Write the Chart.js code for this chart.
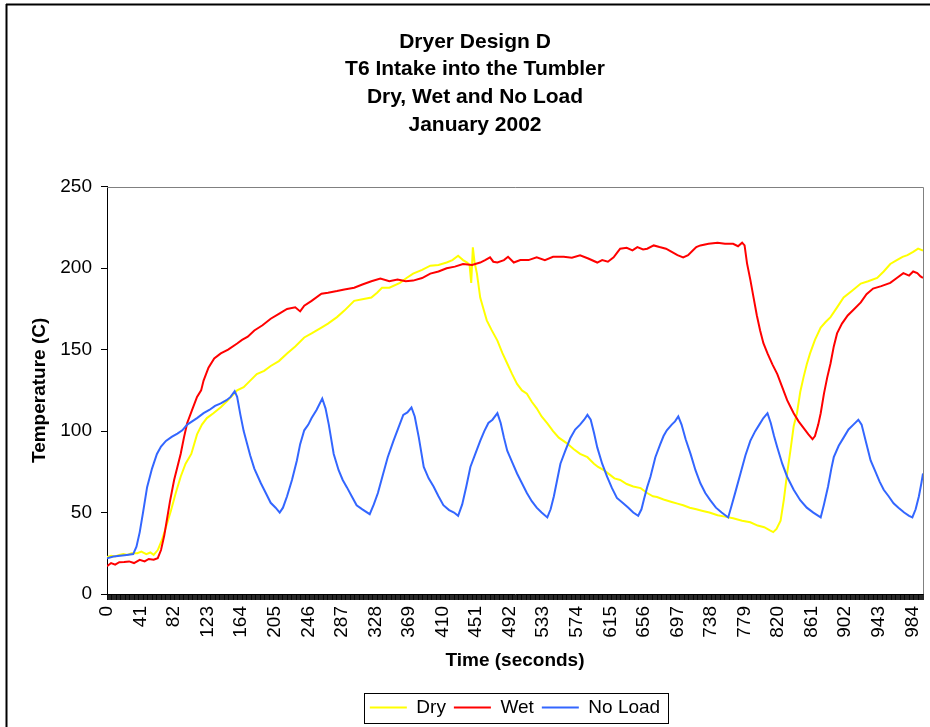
<!DOCTYPE html>
<html>
<head>
<meta charset="utf-8">
<script src="https://cdn.jsdelivr.net/npm/chart.js@4/dist/chart.umd.min.js"></script>
<style>
html,body{margin:0;padding:0;background:#fff;}
#wrap{position:relative;width:930px;height:727px;}
</style>
</head>
<body>
<div id="wrap"><canvas id="c" width="930" height="727"></canvas></div>
<script>
const titleLines = ["Dryer Design D", "T6 Intake into the Tumbler", "Dry, Wet and No Load", "January 2002"];
const xAxisTitle = "Time (seconds)";
const yAxisTitle = "Temperature (C)";
const seriesNames = ["Dry", "Wet", "No Load"];
const xTickLabels = [0,41,82,123,164,205,246,287,328,369,410,451,492,533,574,615,656,697,738,779,820,861,902,943,984];
const lastSecond = 997;
const yTicks = [0,50,100,150,200,250];

const dryTime = [0,5,10,15,20,25,30,37,42,48,53,57,62,67,72,78,84,90,96,103,110,116,122,130,139,148,159,167,175,183,192,200,210,220,230,241,250,262,270,281,290,302,312,323,330,336,345,358,366,374,385,395,405,415,422,429,435,440,443,445,447,449,452,456,460,464,470,477,483,489,495,501,507,513,519,525,531,538,545,552,562,570,578,587,595,600,607,615,620,627,635,643,652,660,667,672,680,690,697,704,712,720,728,736,746,755,765,776,786,795,803,810,814,818,823,827,831,835,839,843,847,851,855,859,865,872,878,884,892,900,910,921,930,941,949,957,965,972,978,985,991,997];
const dryTemp = [22.7,23.5,23,24,24.5,24,25,25,26,24.5,25.5,24,27,33,41,51,62,72,80,86,98,104,108,111,114.6,119,125,127,131,135,137,140,143,147.7,152,157.5,160,163.6,166,170,174,180,181,182,185,188,188,191,194,196.7,199,201.6,202,203.5,205,207.7,205,203.5,202,191,212.8,204,196.7,182,175,168,162,155.6,148,141.5,135,129,125,123,118,114,109,104.8,100,96,92.5,89,86,84,80,78,76,73,71,70,67.5,66,65,62,60,59.5,58,56.5,55.5,54.5,53,52,51,50,48.4,47.5,46.5,45,44,42,41,39,38,40,45,58,74,88,103,111,124,133,141,147.7,156,163.6,167,170,176,182,186,190.6,192,194,198,202.6,205,207,208,210,212,210.8];

const wetTime = [0,5,10,15,21,27,33,40,46,51,57,62,66,70,73,77,82,86,90,94,98,104,110,115,118,124,131,139,148,159,165,172,180,190,200,210,220,230,236,241,250,262,270,281,290,302,312,323,334,345,355,365,374,385,395,405,415,425,435,446,456,462,468,472,477,485,490,497,505,515,525,535,545,558,568,578,588,599,605,612,619,624,627,635,642,648,655,660,668,675,683,690,697,704,710,716,720,725,735,746,755,765,771,776,779,782,786,790,794,798,802,807,813,819,825,831,835,839,845,851,857,862,865,869,872,876,880,884,888,892,898,905,913,921,928,936,946,957,965,973,980,985,990,994,997];
const wetTemp = [17,19,18,19.5,19.6,20,19,21,20,21.5,21,22,27,36,45,57,70,78,86,96,105,113,121,125,131,139,144.6,147.7,150,153.8,156,158,161.8,165,169,172,175,176,173.5,177,180,184.4,185,186,187,188,190,192,193.6,192,193,192,192.4,194,196.7,198,200,201,202.6,202,203.5,205,206.7,204,203.5,205,207,203.5,205,205,206.7,205,207,207,206.5,208,206,203.5,205,204,206.7,210,212,212.5,211,213,211.5,212,214,213,212,210,208,206.7,208,211,213,214,215,215.7,215,215,213.5,215.7,214,203,193,182,171,161.8,154,147.7,141,135,127,119,115,111,106,102,98,95,97,104,111,123,133,141.5,152,160,166,171,175,179,184,187.5,189,191,194,197,195.5,198,197,195,194];

const noLoadTime = [0,8,16,24,32,36,40,44,49,55,61,66,72,79,86,92,98,104,110,118,125,132,139,146,151,156,159,163,167,171,175,180,188,194,200,206,211,215,220,226,232,236,241,246,250,256,263,267,271,277,283,288,293,299,305,312,321,326,331,337,343,350,356,362,367,372,376,381,387,393,399,405,411,418,424,429,434,439,444,450,456,461,466,471,477,481,485,489,495,501,507,513,519,525,531,538,542,546,550,554,560,566,572,578,583,587,591,595,599,605,611,617,623,630,637,643,649,653,656,660,664,670,676,680,684,690,694,698,702,707,713,719,725,731,737,744,751,759,763,768,774,780,786,792,797,802,807,811,815,819,825,831,839,847,855,863,872,876,881,885,888,894,900,906,912,918,922,927,933,939,944,949,955,961,967,974,980,984,988,992,995,997];
const noLoadTemp = [22,23,23.5,24,24.5,29,38,50,65.6,77,86,90.5,94,96.5,98.5,100.5,104,106,108,111,113,115.5,117,119,121,124.5,121,110,100,92.5,85,77,68,62,56,53,50,53,60,70,82,92,100.5,104,108,113,120,114,104,86,76,70,65.6,60,54.5,52,49,55,62,73,84,94,102,110,111.5,114.5,109,96,78,71,66,60,54.5,51.5,50,48,55,66,78,86,94,100,105,107,111,105,96,88,81,74,68,62,57,53,50,47,52,60,70,80,88,95.6,101,104,107,110,107,99,90,80,72,65,59,56,53,50,48,52,58,65.6,72,84,92,97,100.5,104,106,109,104,95,86,76,68,62,57.6,53,50,47,54,63,74,85,94,100,104,108,111,105,97,90,80,72,64,57.6,53,50,47,55,66,77,84,91,96,101,104,107,104,94,82,75,69,64,60,55.7,53,50,48,47,52,60,68,74];

const seriesColors = ["#FFFF00", "#FF0000", "#3366FF"];

function toPoints(ts, vs) { return ts.map((t, i) => ({x: t, y: vs[i]})); }

const FONT = "'Liberation Sans', Arial, sans-serif";
const labelSet = new Set(xTickLabels);

const framePlugin = {
  id: 'frame',
  beforeDraw(chart) {
    const ctx = chart.ctx;
    ctx.save();
    ctx.fillStyle = '#fff';
    ctx.fillRect(0, 0, chart.width, chart.height);
    ctx.strokeStyle = '#000';
    ctx.lineWidth = 2;
    ctx.beginPath();
    ctx.moveTo(6, 4.5); ctx.lineTo(chart.width, 4.5);
    ctx.moveTo(6.5, 4); ctx.lineTo(6.5, chart.height);
    ctx.stroke();
    ctx.restore();
  },
  afterDraw(chart) {
    const ctx = chart.ctx;
    const a = chart.chartArea;
    ctx.save();
    ctx.strokeStyle = '#808080';
    ctx.lineWidth = 1;
    ctx.beginPath();
    ctx.moveTo(a.left, Math.round(a.top) + 0.5); ctx.lineTo(Math.round(a.right) + 0.5, Math.round(a.top) + 0.5);
    ctx.lineTo(Math.round(a.right) + 0.5, a.bottom);
    ctx.stroke();
    const hb = chart.legend.legendHitBoxes;
    if (hb && hb.length) {
      const left = Math.min(...hb.map(h => h.left)) - 6;
      const right = Math.max(...hb.map(h => h.left + h.width)) + 8;
      const top = hb[0].top - 5;
      const bottom = hb[0].top + hb[0].height + 6;
      ctx.strokeStyle = '#000';
      ctx.strokeRect(Math.round(left) + 0.5, Math.round(top) + 0.5, Math.round(right - left), Math.round(bottom - top));
    }
    ctx.restore();
  }
};

new Chart(document.getElementById('c'), {
  type: 'line',
  data: {
    datasets: [
      {label: seriesNames[0], data: toPoints(dryTime, dryTemp), borderColor: seriesColors[0], backgroundColor: seriesColors[0], order: 3},
      {label: seriesNames[1], data: toPoints(wetTime, wetTemp), borderColor: seriesColors[1], backgroundColor: seriesColors[1], order: 2},
      {label: seriesNames[2], data: toPoints(noLoadTime, noLoadTemp), borderColor: seriesColors[2], backgroundColor: seriesColors[2], order: 1}
    ]
  },
  options: {
    responsive: false,
    animation: false,
    devicePixelRatio: 1,
    elements: {point: {radius: 0}, line: {borderWidth: 2, tension: 0}},
    layout: {padding: {left: 20, right: 0, top: 0, bottom: 0}},
    plugins: {
      title: {
        display: true,
        text: titleLines,
        color: '#000',
        font: {family: FONT, size: 21, weight: 'bold', lineHeight: 1.319},
        padding: {top: 28, bottom: 48}
      },
      legend: {
        position: 'bottom',
        fullSize: false,
        labels: {
          color: '#000',
          font: {family: FONT, size: 19},
          boxWidth: 37,
          boxHeight: 2,
          padding: 8,
          sort: (a, b) => a.datasetIndex - b.datasetIndex,
          generateLabels: (chart) => Chart.defaults.plugins.legend.labels.generateLabels(chart).map(it => Object.assign(it, {lineWidth: 0}))
        }
      },
      tooltip: {enabled: false}
    },
    scales: {
      x: {
        type: 'linear',
        min: 0,
        max: lastSecond,
        afterBuildTicks: (scale) => {
          const t = [];
          for (let i = 0; i <= lastSecond; i++) t.push({value: i});
          scale.ticks = t;
        },
        afterFit: (scale) => { scale.height = 96; scale.paddingRight = 7; scale.paddingLeft = 0; },
        ticks: {
          autoSkip: false,
          minRotation: 90,
          maxRotation: 90,
          padding: 6,
          color: '#000',
          font: {family: FONT, size: 19},
          callback: (v) => labelSet.has(v) ? String(v) : ''
        },
        grid: {drawOnChartArea: false, drawTicks: true, tickLength: 6, color: '#000', lineWidth: 0.85},
        border: {display: true, color: '#000', width: 1},
        title: {display: true, text: xAxisTitle, color: '#000', font: {family: FONT, size: 19, weight: 'bold'}, padding: {top: 4, bottom: 18}}
      },
      y: {
        min: 0,
        max: 250,
        afterBuildTicks: (scale) => { scale.ticks = yTicks.map(v => ({value: v})); },
        afterFit: (scale) => { scale.width = 87; },
        ticks: {padding: 9, color: '#000', font: {family: FONT, size: 19}},
        grid: {drawOnChartArea: false, drawTicks: true, tickLength: 6, color: '#000', lineWidth: 1},
        border: {display: true, color: '#000', width: 1},
        title: {display: true, text: yAxisTitle, color: '#000', font: {family: FONT, size: 19, weight: 'bold'}, padding: {top: 8, bottom: 4}}
      }
    }
  },
  plugins: [framePlugin]
});
</script>
</body>
</html>
